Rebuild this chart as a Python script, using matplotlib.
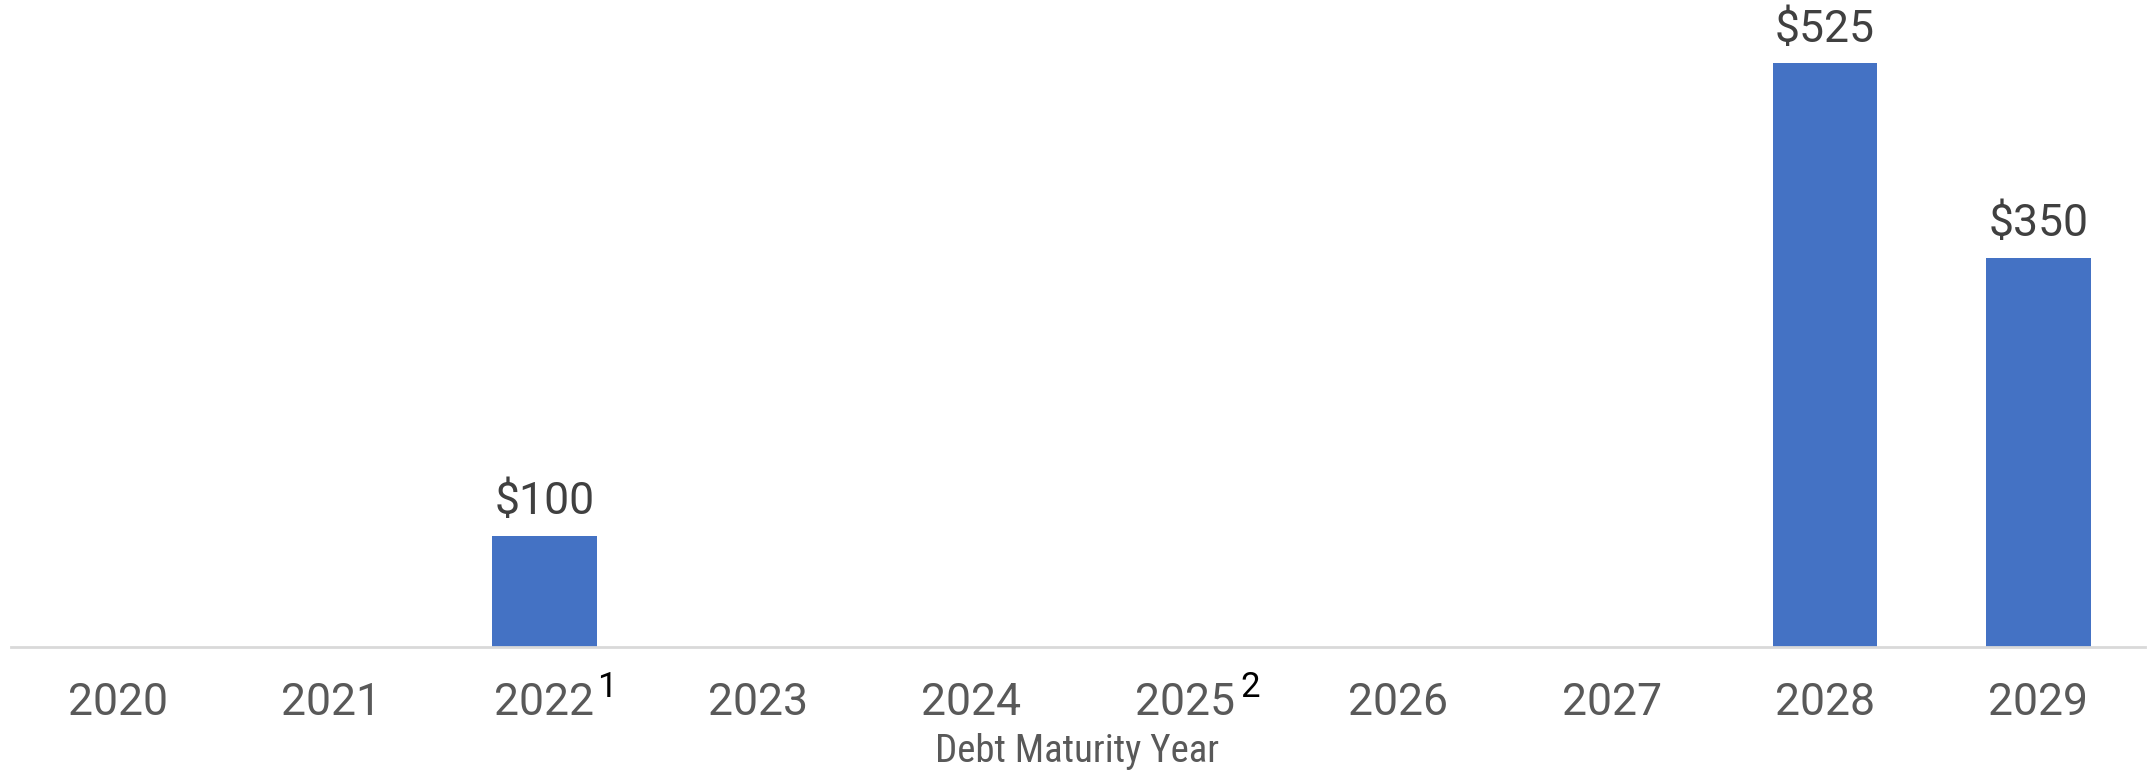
import matplotlib
matplotlib.use("Agg")
import matplotlib.pyplot as plt
from matplotlib import font_manager

# Debt maturities ($ millions)
years = ["2020", "2021", "2022", "2023", "2024", "2025", "2026", "2027", "2028", "2029"]
amounts = [0, 0, 100, 0, 0, 0, 0, 0, 525, 350]
note_years = ["2022", "2025"]
note_marks = ["1", "2"]

bar_color = "#4472C4"
names = {f.name for f in font_manager.fontManager.ttflist}
narrow = "Liberation Sans Narrow" if "Liberation Sans Narrow" in names else "Roboto Condensed"
if narrow not in names:
    narrow = "DejaVu Sans"

fig = plt.figure(figsize=(21.49, 7.71), dpi=100)
ax = fig.add_axes([11 / 2149, 124 / 771, 2134 / 2149, 647 / 771])

x = list(range(len(years)))
bars = ax.bar(x, amounts, width=0.49, color=bar_color, zorder=2)

for xi, v in zip(x, amounts):
    if v > 0:
        ax.annotate(f"${v}", (xi, v), xytext=(0, 9), textcoords="offset points",
                    ha="center", va="bottom", fontsize=32, color="#404040",
                    family="Roboto")

ax.set_xlim(-0.5, len(years) - 0.5)
ax.set_ylim(0, 582)
ax.set_xticks(x)
ax.set_xticklabels(years, fontsize=32, color="#595959", family="Roboto")
ax.tick_params(axis="x", length=0, pad=25)
ax.set_yticks([])

for s in ["top", "right", "left"]:
    ax.spines[s].set_visible(False)
ax.spines["bottom"].set_color("#d9d9d9")
ax.spines["bottom"].set_linewidth(2)

# footnote markers next to the year labels
for yr, mark in zip(note_years, note_marks):
    xi = years.index(yr)
    ax.annotate(mark, (xi, 0), xycoords=("data", "axes fraction"),
                xytext=(45 if mark == "1" else 47, -29), textcoords="offset points",
                ha="center", va="center", fontsize=25, color="black", family="Roboto")

fig.text(1077 / 2149, 1 - 752 / 771, "Debt Maturity Year", ha="center", va="center",
         fontsize=28, color="#595959", family=narrow)

fig.savefig("out.png", dpi=100)
